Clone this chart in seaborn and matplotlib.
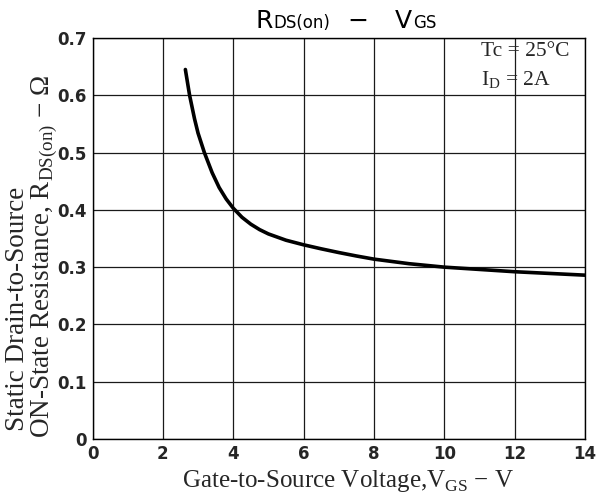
import matplotlib
matplotlib.use("Agg")
import matplotlib.pyplot as plt
import seaborn as sns
import pandas as pd
from matplotlib.offsetbox import TextArea, HPacker, AnnotationBbox

# Data
vgs = [2.64, 2.76, 2.9, 3.0, 3.18, 3.4, 3.6, 3.8, 4.0, 4.25, 4.5, 4.75, 5.0, 5.5,
       6.0, 6.5, 7.0, 7.5, 8.0, 9.0, 10.0, 11.0, 12.0, 13.0, 14.0]
rds = [0.645, 0.600, 0.559, 0.534, 0.500, 0.465, 0.439, 0.419, 0.403, 0.387, 0.375,
       0.3655, 0.358, 0.347, 0.339, 0.332, 0.3255, 0.3195, 0.314, 0.306, 0.300, 0.296,
       0.292, 0.289, 0.286]

x_ticks = [0, 2, 4, 6, 8, 10, 12, 14]
y_ticks = [0, 0.1, 0.2, 0.3, 0.4, 0.5, 0.6, 0.7]
y_tick_labels = ["0", "0.1", "0.2", "0.3", "0.4", "0.5", "0.6", "0.7"]

sns.set_theme(style="white")
plt.rcParams["font.family"] = ["DejaVu Sans"]

W, H = 607, 497
fig = plt.figure(figsize=(W / 100, H / 100), dpi=100)
L, R, T, B = 92.5, 585, 38, 439
ax = fig.add_axes([L / W, 1 - B / H, (R - L) / W, (B - T) / H])

df = pd.DataFrame({"VGS": vgs, "RDS": rds})
sns.lineplot(data=df, x="VGS", y="RDS", ax=ax, color="black", linewidth=2.6,
             estimator=None, sort=False)

ax.set_xlim(0, 14)
ax.set_ylim(0, 0.7)
ax.set_xticks(x_ticks)
ax.set_yticks(y_ticks)
ax.set_xticklabels([str(t) for t in x_ticks], fontweight="bold", fontsize=12)
ax.set_yticklabels(y_tick_labels, fontweight="bold", fontsize=12)
ax.tick_params(axis="x", length=0, pad=4)
ax.tick_params(axis="y", length=0, pad=4)
ax.grid(True, color="#1a1a1a", linewidth=0.9)
for s in ax.spines.values():
    s.set_color("black")
    s.set_linewidth(1.0)
ax.set_xlabel("")
ax.set_ylabel("")

serif = ["Liberation Serif", "DejaVu Serif"]


def fx(px):
    return px / W


def fy(py):
    return 1 - py / H


# x-axis label
fig.text(fx(182), fy(487), "Gate-to-Source Voltage,V$_{\\mathregular{GS}}$ − V",
         family=serif, fontsize=18, ha="left", va="baseline", rotation_mode="anchor")

# y-axis label (two lines)
fig.text(fx(24), fy(431), "Static Drain-to-Source",
         family=serif, fontsize=19.5, rotation=90, ha="left", va="baseline",
         rotation_mode="anchor")
fig.text(fx(49), fy(438), "ON-State Resistance, R$_{\\mathregular{DS(on)}}$ − Ω",
         family=serif, fontsize=19.5, rotation=90, ha="left", va="baseline",
         rotation_mode="anchor")

# title: large letters with small same-baseline suffixes
big = dict(fontsize=18, color="black", family="DejaVu Sans")
small = dict(fontsize=12, color="black", family="DejaVu Sans")
title_box = HPacker(children=[TextArea("R", textprops=big),
                              TextArea("DS(on)", textprops=small),
                              TextArea("  −   ", textprops=big),
                              TextArea("V", textprops=big),
                              TextArea("GS", textprops=small)],
                    align="baseline", pad=0, sep=1)
fig.add_artist(AnnotationBbox(title_box, (fx(255), fy(33)), xycoords="figure fraction",
                              box_alignment=(0, 0), frameon=False, pad=0))

# condition annotations
fig.text(fx(481), fy(56), "Tc = 25°C", family=serif, fontsize=15.5, ha="left", va="baseline")
fig.text(fx(481), fy(85), "I$_{\\mathregular{D}}$ = 2A", family=serif, fontsize=15.5,
         ha="left", va="baseline")

fig.savefig("out.png", dpi=100, facecolor="white")
